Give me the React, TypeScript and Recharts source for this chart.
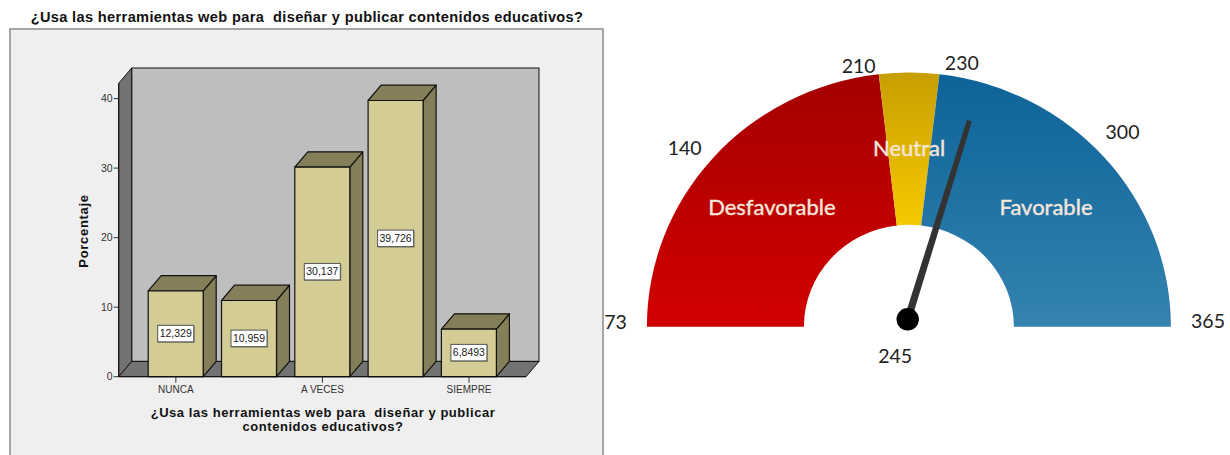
import { BarChart, Bar, XAxis, YAxis, LabelList, PieChart, Pie, Sector, Cell, Surface } from "recharts";

const TITLE = "¿Usa las herramientas web para  diseñar y publicar contenidos educativos?";
const X_TITLE_LINES = ["¿Usa las herramientas web para  diseñar y publicar", "contenidos educativos?"];

// Only every other category is labelled in the picture
const categories = ["NUNCA", "", "A VECES", "", "SIEMPRE"];
const percentages = [12.329, 10.959, 30.137, 39.726, 6.8493];
const percentLabels = ["12,329", "10,959", "30,137", "39,726", "6,8493"];
const yTicks = [0, 10, 20, 30, 40];

const gaugeNames = ["Desfavorable", "Neutral", "Favorable"];
// Sector spans in degrees
const gaugeSpans = [83.4, 13.3, 83.3];
const gaugeTicks = ["73", "140", "210", "230", "300", "365", "245"];
const gaugeMin = 73;
const gaugeMax = 365;
const needleValue = 247;

const barData = categories.map((name, i) => ({ name, value: percentages[i], label: percentLabels[i] }));
const gaugeData = gaugeNames.map((name, i) => ({ name, value: gaugeSpans[i] }));

// Plot frame of the bar chart and the fake 3D depth
const PLOT = { left: 118.7, right: 526, top: 83.3, bottom: 376.7 };
const DX = 13;
const DY = 15.3;

// Gauge geometry, relative to its own svg
const GAUGE = { cx: 308.9, cy: 326.7, inner: 105, outer: 262, squash: 0.97 };
const HUB = { x: 307.7, y: 319.3, r: 11.2, length: 208 };
const TICK_POS = [
  [15.5, 322],
  [84.7, 148],
  [258.6, 65.7],
  [361.8, 62.7],
  [522.5, 132.3],
  [608, 320.5],
  [295.2, 356],
];

const pts = (list: number[][]) => list.map((p) => p.join(",")).join(" ");

const Backdrop = () => {
  const { left, right, top, bottom } = PLOT;
  return (
    <g>
      <rect x={10} y={29} width={593} height={440} fill="#efefef" stroke="#8a8a8a" strokeWidth={1.5} />
      <rect x={left + DX} y={top - DY} width={right - left} height={bottom - top} fill="#bebebe" stroke="#111" strokeWidth={1} />
      <polygon
        points={pts([[left, top], [left + DX, top - DY], [left + DX, bottom - DY], [left, bottom]])}
        fill="#737373"
        stroke="#111"
        strokeWidth={1}
      />
      <polygon
        points={pts([[left, bottom], [left + DX, bottom - DY], [right + DX, bottom - DY], [right, bottom]])}
        fill="#737373"
        stroke="#111"
        strokeWidth={1}
      />
      <text x={307} y={22} textAnchor="middle" fontSize={14.6} fontWeight="bold" letterSpacing={0.35} fill="#111" style={{ whiteSpace: "pre" }}>
        {TITLE}
      </text>
      <text
        x={0}
        y={0}
        transform="translate(88,231) rotate(-90)"
        textAnchor="middle"
        fontSize={13}
        fontWeight="bold"
        letterSpacing={0.7}
        fill="#111"
      >
        Porcentaje
      </text>
      {X_TITLE_LINES.map((line, i) => (
        <text
          key={i}
          x={323}
          y={416.5 + i * 14}
          textAnchor="middle"
          fontSize={13}
          fontWeight="bold"
          letterSpacing={0.55}
          fill="#111"
          style={{ whiteSpace: "pre" }}
        >
          {line}
        </text>
      ))}
    </g>
  );
};

const Bar3D = (props: any) => {
  const { x, y, width, height } = props;
  return (
    <g stroke="#111" strokeWidth={1.2} strokeLinejoin="round">
      <polygon
        points={pts([[x + width, y], [x + width + DX, y - DY], [x + width + DX, y + height - DY], [x + width, y + height]])}
        fill="#847f58"
      />
      <polygon
        points={pts([[x, y], [x + DX, y - DY], [x + width + DX, y - DY], [x + width, y]])}
        fill="#847f58"
      />
      <rect x={x} y={y} width={width} height={height} fill="#d3cd95" />
    </g>
  );
};

const ValueBox = (props: any) => {
  const { x, y, width, height, value } = props;
  const cx = x + width / 2;
  const cy = y + height / 2;
  return (
    <g>
      <rect x={cx - 18} y={cy - 8} width={37} height={17} fill="#8d8d70" />
      <rect x={cx - 18} y={cy - 8.5} width={36} height={16.5} fill="#fff" stroke="#555" strokeWidth={1} />
      <text x={cx} y={cy + 3.5} textAnchor="middle" fontSize={10.5} fill="#222">
        {value}
      </text>
    </g>
  );
};

// Sector flattened a little, the original gauge is not quite a circle
const GaugeSector = (props: any) => {
  const { cy } = props;
  return (
    <g transform={`translate(0,${cy}) scale(1,${GAUGE.squash}) translate(0,${-cy})`}>
      <Sector {...props} stroke="none" />
    </g>
  );
};

const gaugeLabel = (props: any) => {
  const { cx, cy, midAngle, innerRadius, outerRadius, name } = props;
  const r = (innerRadius + outerRadius) / 2;
  const rad = (midAngle * Math.PI) / 180;
  return (
    <text
      x={cx + r * Math.cos(rad)}
      y={cy - r * Math.sin(rad) * GAUGE.squash + 7}
      textAnchor="middle"
      fontFamily="Lato"
      fontSize={22}
      fill="#f6e6dc"
      stroke="#f6e6dc"
      strokeWidth={0.4}
    >
      {name}
    </text>
  );
};

// Needle and tick numbers sit above the pie, so they get their own surface
const GaugeOverlay = () => {
  const t = (needleValue - gaugeMin) / (gaugeMax - gaugeMin);
  const rad = Math.PI * (1 - t);
  const ux = Math.cos(rad);
  const uy = -Math.sin(rad);
  const tipX = HUB.x + ux * HUB.length;
  const tipY = HUB.y + uy * HUB.length;
  return (
    <Surface width={630} height={455} viewBox={{ x: 0, y: 0, width: 630, height: 455 }}>
      <polygon
        points={pts([
          [HUB.x + uy * 3.7, HUB.y - ux * 3.7],
          [tipX + uy * 2.6, tipY - ux * 2.6],
          [tipX - uy * 2.6, tipY + ux * 2.6],
          [HUB.x - uy * 3.7, HUB.y + ux * 3.7],
        ])}
        fill="#333"
      />
      <circle cx={HUB.x} cy={HUB.y} r={HUB.r} fill="#000" />
      {gaugeTicks.map((tick, i) => (
        <text key={i} x={TICK_POS[i][0]} y={TICK_POS[i][1] + 7} textAnchor="middle" fontFamily="Lato" fontSize={19.5} fill="#222">
          {tick}
        </text>
      ))}
    </Surface>
  );
};

export default function App() {
  return (
    <div style={{ position: "absolute", left: 0, top: 0, width: 1230, height: 455, overflow: "hidden", background: "#fff", fontFamily: "'Liberation Sans', Arial, sans-serif" }}>
      <div style={{ position: "absolute", left: 0, top: 0 }}>
        <BarChart
          width={610}
          height={455}
          data={barData}
          barSize={55}
          margin={{ left: PLOT.left - 100, right: 610 - PLOT.right, top: PLOT.top, bottom: 455 - PLOT.bottom - 70 }}
        >
          <Backdrop />
          <XAxis
            dataKey="name"
            height={70}
            interval={1}
            padding={{ left: 20.5, right: 20.3 }}
            axisLine={{ stroke: "#111" }}
            tickLine={{ stroke: "#333" }}
            tickSize={6}
            tickMargin={3}
            tick={{ fontSize: 10, fill: "#333" }}
          />
          <YAxis
            width={100}
            type="number"
            domain={[0, 42.2]}
            ticks={yTicks}
            axisLine={{ stroke: "#111" }}
            tickLine={{ stroke: "#333" }}
            tickSize={5}
            tickMargin={1}
            tick={{ fontSize: 10.5, fill: "#333" }}
          />
          <Bar dataKey="value" isAnimationActive={false} shape={Bar3D}>
            <LabelList dataKey="label" content={ValueBox} />
          </Bar>
        </BarChart>
      </div>
      <div style={{ position: "absolute", left: 600, top: 0 }}>
        <PieChart width={630} height={455} margin={{ left: 0, right: 0, top: 0, bottom: 0 }}>
          <defs>
            <linearGradient id="gaugeRed" x1="0" y1="0" x2="0" y2="1">
              <stop offset="0%" stopColor="#a50000" />
              <stop offset="100%" stopColor="#d20000" />
            </linearGradient>
            <linearGradient id="gaugeYellow" x1="0" y1="0" x2="0" y2="1">
              <stop offset="0%" stopColor="#c79e00" />
              <stop offset="100%" stopColor="#f7c900" />
            </linearGradient>
            <linearGradient id="gaugeBlue" x1="0" y1="0" x2="0" y2="1">
              <stop offset="0%" stopColor="#0d6297" />
              <stop offset="100%" stopColor="#3483b1" />
            </linearGradient>
          </defs>
          <Pie
            data={gaugeData}
            dataKey="value"
            nameKey="name"
            cx={GAUGE.cx}
            cy={GAUGE.cy}
            startAngle={180}
            endAngle={0}
            innerRadius={GAUGE.inner}
            outerRadius={GAUGE.outer}
            paddingAngle={0}
            stroke="none"
            shape={GaugeSector}
            label={gaugeLabel}
            labelLine={false}
            isAnimationActive={false}
          >
            <Cell fill="url(#gaugeRed)" />
            <Cell fill="url(#gaugeYellow)" />
            <Cell fill="url(#gaugeBlue)" />
          </Pie>
        </PieChart>
      </div>
      <div style={{ position: "absolute", left: 600, top: 0, pointerEvents: "none" }}>
        <GaugeOverlay />
      </div>
    </div>
  );
}
